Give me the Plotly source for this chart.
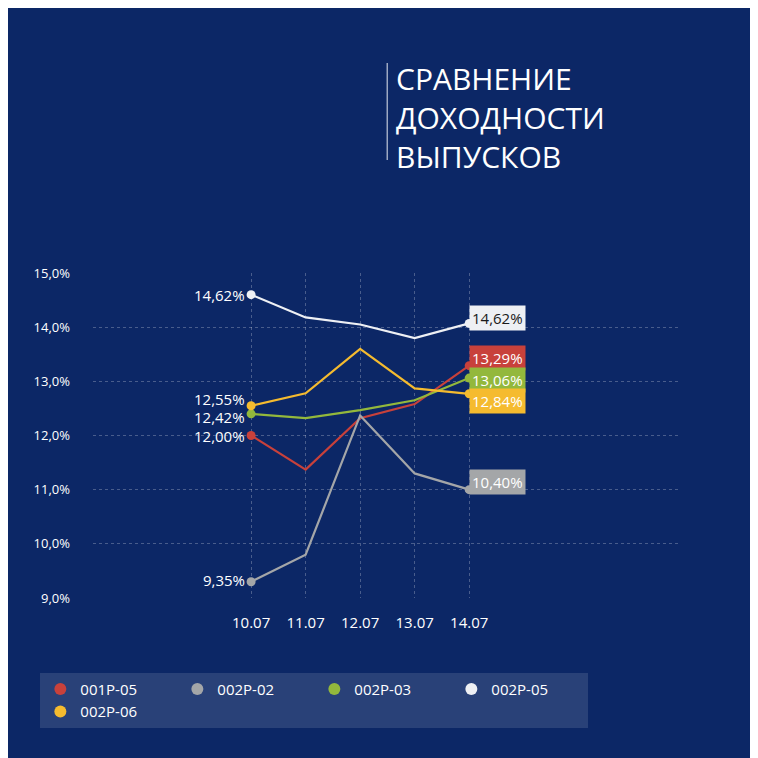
import plotly.graph_objects as go

dates = ['10.07', '11.07', '12.07', '13.07', '14.07']
names = ['001P-05', '002P-02', '002P-03', '002P-05', '002P-06']
colors = ['#c8413b', '#a4a6a8', '#93b83c', '#eef0f4', '#f5bb2f']
values = {
    '001P-05': [12.00, 11.37, 12.32, 12.58, 13.29],
    '002P-02': [9.30, 9.80, 12.37, 11.30, 11.00],
    '002P-03': [12.40, 12.32, 12.47, 12.65, 13.06],
    '002P-05': [14.60, 14.18, 14.05, 13.80, 14.07],
    '002P-06': [12.55, 12.78, 13.60, 12.87, 12.77],
}
start_labels = ['12,00%', '9,35%', '12,42%', '14,62%', '12,55%']
end_labels = ['13,29%', '10,40%', '13,06%', '14,62%', '12,84%']
# y where the labels sit (nudged apart so they don't collide)
end_label_y = [13.43, 11.15, 13.02, 14.17, 12.63]
start_label_y = [12.0, 9.33, 12.35, 14.6, 12.68]

x = list(range(len(dates)))
fig = go.Figure()
for n, c in zip(names, colors):
    fig.add_trace(go.Scatter(
        x=x, y=values[n], name=n, mode='lines', showlegend=False,
        line=dict(color=c, width=2.2)))
for n, c in zip(names, colors):
    v = values[n]
    fig.add_trace(go.Scatter(
        x=[x[0], x[-1]], y=[v[0], v[-1]], mode='markers', showlegend=False,
        marker=dict(color=c, size=9)))
# legend entries: round markers only
for n, c in zip(names, colors):
    fig.add_trace(go.Scatter(
        x=[None], y=[None], name=n, mode='markers',
        marker=dict(color=c, size=14)))

for i, n in enumerate(names):
    fig.add_annotation(x=x[0], y=start_label_y[i], text=start_labels[i],
                       xanchor='right', showarrow=False, xshift=-4,
                       font=dict(color='white', size=15))
    fig.add_annotation(x=x[-1], y=end_label_y[i], text=end_labels[i],
                       xanchor='left', showarrow=False, xshift=0,
                       bgcolor=colors[i], borderpad=2,
                       font=dict(color='#1a1a1a' if n == '002P-05' else 'white', size=15))

fig.add_shape(type='line', xref='paper', yref='paper', x0=0.503, x1=0.503,
              y0=(758 - 152 - 168) / 325, y1=(758 - 55 - 168) / 325,
              line=dict(color='rgba(255,255,255,0.6)', width=1.5))
fig.add_annotation(xref='paper', yref='paper', x=0.515, y=(758 - 48 - 168) / 325,
                   xanchor='left', yanchor='top', align='left', showarrow=False,
                   text='СРАВНЕНИЕ<br>ДОХОДНОСТИ<br>ВЫПУСКОВ',
                   font=dict(color='white', size=30, family='Open Sans'))

fig.update_layout(
    width=758, height=758,
    paper_bgcolor='#0c2766', plot_bgcolor='rgba(0,0,0,0)',
    margin=dict(l=85, r=88, t=265, b=168),
    font=dict(family='Open Sans', color='white', size=13),
    xaxis=dict(range=[-2.9, 7.83], tickvals=x, ticktext=dates, showgrid=True,
               gridcolor='rgba(255,255,255,0.25)', griddash='dot', zeroline=False,
               tickfont=dict(size=15), ticklabelstandoff=14),
    yaxis=dict(range=[9.0, 15.0], dtick=1, tickformat='.1f', ticksuffix='%',
               showgrid=True,
               gridcolor='rgba(255,255,255,0.25)', griddash='dot', zeroline=False,
               tickfont=dict(size=13), ticklabelstandoff=22),
    separators=',.',
    legend=dict(orientation='h', x=-0.09, y=-0.23, xanchor='left', yanchor='top',
                bgcolor='rgba(255,255,255,0.12)', font=dict(size=15),
                itemwidth=30, entrywidth=92, itemsizing='constant'),
)
fig.write_html('out.html')
